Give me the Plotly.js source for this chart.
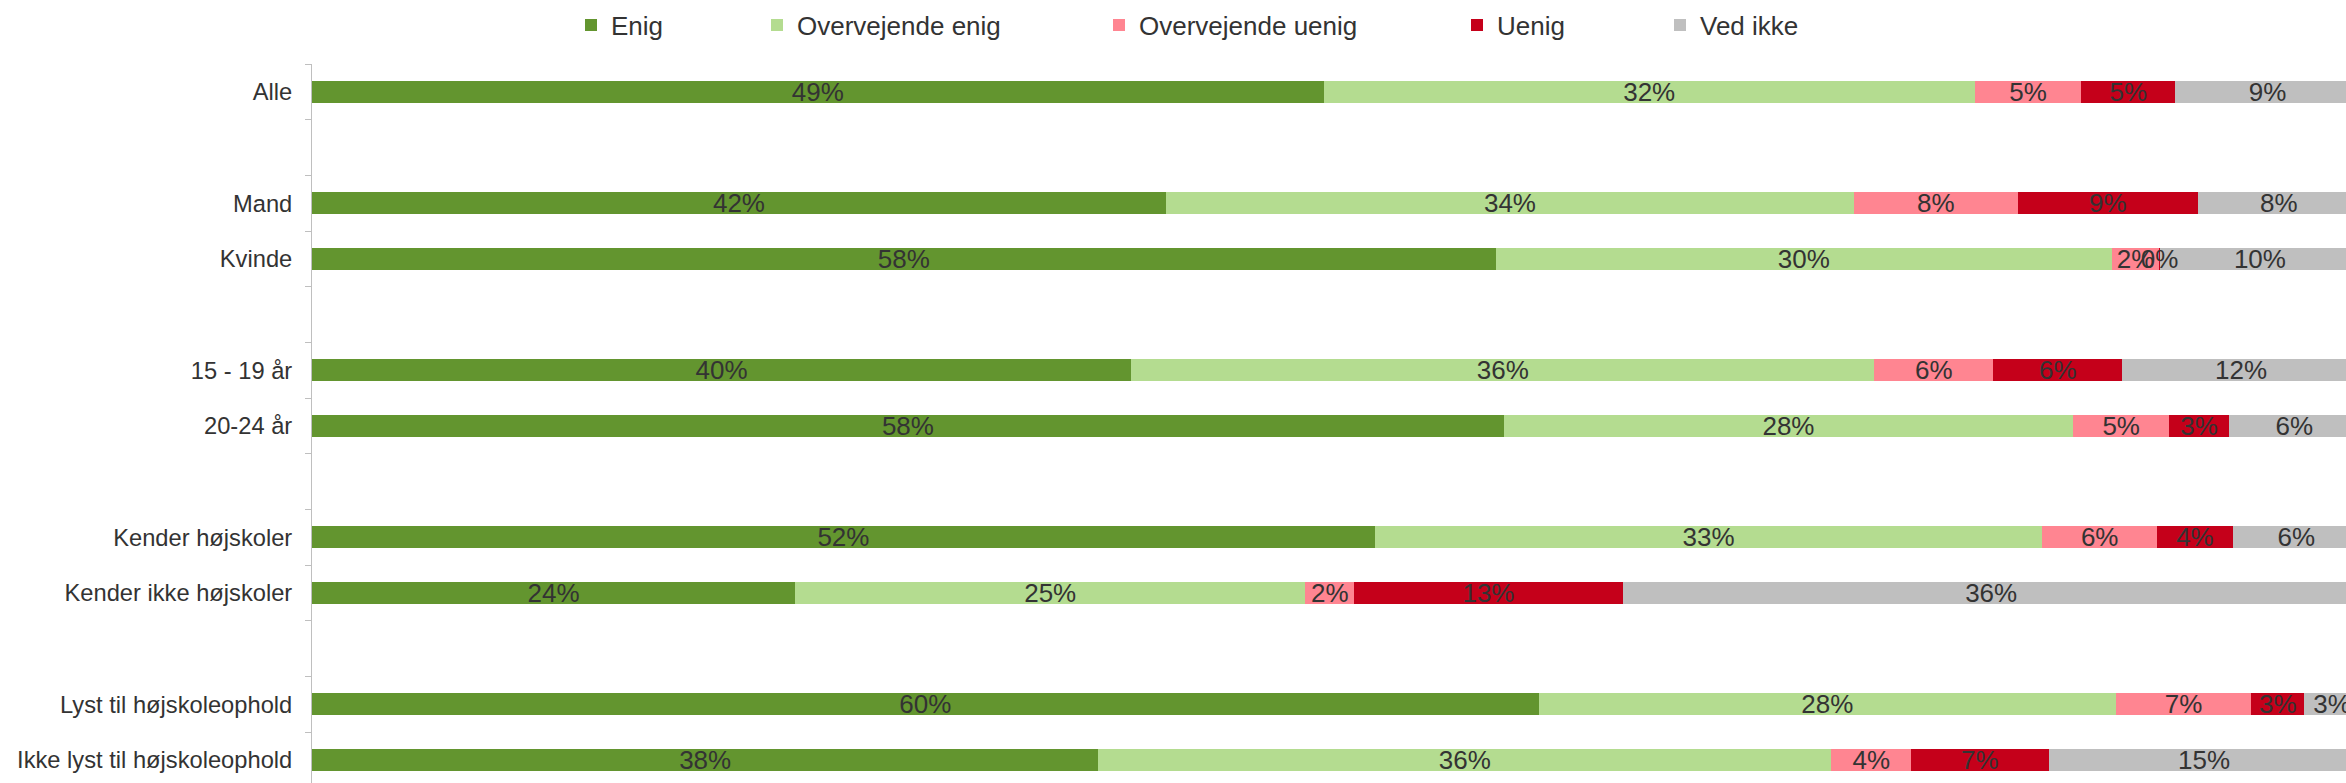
<!DOCTYPE html>
<html>
<head>
<meta charset="utf-8">
<script src="https://cdn.plot.ly/plotly-3.0.1.min.js"></script>
<style>html,body{margin:0;padding:0;background:#fff;overflow:hidden;}#chart{width:2370px;height:783px;}</style>
</head>
<body>
<div id="chart"></div>
<script>
// Row categories (blank strings are the empty separator rows of the original chart)
const categories = ['Alle', ' ', 'Mand', 'Kvinde', '  ', '15 - 19 år', '20-24 år', '   ',
  'Kender højskoler', 'Kender ikke højskoler', '    ', 'Lyst til højskoleophold', 'Ikke lyst til højskoleophold'];

const seriesNames = ['Enig', 'Overvejende enig', 'Overvejende uenig', 'Uenig', 'Ved ikke'];

// Shares in percent
const enig            = [49.4, null, 41.7, 57.8, null, 40.0, 58.2, null, 51.9, 23.6, null, 59.9, 38.4];
const overvejendeEnig = [31.8, null, 33.6, 30.1, null, 36.3, 27.8, null, 32.6, 24.9, null, 28.2, 35.8];
const overvejendeUenig= [5.2,  null, 8.0,  2.3,  null, 5.8,  4.7,  null, 5.6,  2.4,  null, 6.6,  3.9];
const uenig           = [4.6,  null, 8.8,  0.05, null, 6.3,  2.9,  null, 3.7,  13.1, null, 2.6,  6.7];
const vedIkke         = [9.0,  null, 7.9,  9.75, null, 11.6, 6.4,  null, 6.2,  36.0, null, 2.7,  15.2];

const seriesValues = [enig, overvejendeEnig, overvejendeUenig, uenig, vedIkke];
const colors = ['#63952F', '#B4DC90', '#FF8591', '#C5001A', '#BFBFBF'];

const W = 2370, H = 783;   // page window is 2346 wide; the chart runs off the right edge as in the original
const legendTextX = [611, 797, 1139, 1497, 1700];
const FONT = 'Liberation Sans, Arial, sans-serif';

// coloured bars
const barTraces = seriesNames.map((name, i) => ({
  type: 'bar',
  orientation: 'h',
  name: name,
  y: categories,
  x: seriesValues[i],
  marker: {color: colors[i], line: {width: 0}},
  hoverinfo: 'none',
  legend: i === 0 ? 'legend' : 'legend' + (i + 1),
  xaxis: 'x', yaxis: 'y'
}));

// transparent copies on an overlaid subplot that carry the value labels above every bar
const labelTraces = seriesNames.map((name, i) => ({
  type: 'bar',
  orientation: 'h',
  name: name + ' label',
  showlegend: false,
  y: categories,
  x: seriesValues[i],
  text: seriesValues[i].map(v => v == null ? '' : Math.round(v) + '%'),
  textposition: 'inside',
  insidetextanchor: 'middle',
  textangle: 0,
  insidetextfont: {family: FONT, size: 26, color: '#333333'},
  marker: {color: 'rgba(0,0,0,0)', line: {width: 0}},
  hoverinfo: 'none',
  cliponaxis: false,
  xaxis: 'x2', yaxis: 'y2'
}));

const legendFont = {family: FONT, size: 26, color: '#333333'};
const xRange = [0, 100.5];
const yRange = [12.41, -0.5];
const layout = {
  width: W, height: H,
  margin: {l: 312, r: 0, t: 64, b: 0, pad: 0},
  paper_bgcolor: '#ffffff', plot_bgcolor: '#ffffff',
  barmode: 'stack',
  bargap: 0.605,
  uniformtext: {mode: 'show', minsize: 26},
  font: {family: FONT, color: '#333333'},
  xaxis: {range: xRange, visible: false, showgrid: false, zeroline: false, fixedrange: true},
  yaxis: {
    type: 'category',
    categoryorder: 'array', categoryarray: categories,
    range: yRange,
    showline: true, linecolor: '#BFBFBF', linewidth: 1,
    ticks: 'outside', ticklen: 6, tickcolor: '#BFBFBF', tickwidth: 1,
    tickson: 'boundaries',
    showgrid: false, zeroline: false,
    tickfont: {family: FONT, size: 23.7, color: '#333333'},
    ticklabelstandoff: 14,
    fixedrange: true
  },
  xaxis2: {overlaying: 'x', range: xRange, visible: false, showgrid: false, zeroline: false, fixedrange: true},
  yaxis2: {
    overlaying: 'y', type: 'category',
    categoryorder: 'array', categoryarray: categories,
    range: yRange, visible: false, showgrid: false, zeroline: false, fixedrange: true
  },
  showlegend: true
};
legendTextX.forEach((px, i) => {
  const key = i === 0 ? 'legend' : 'legend' + (i + 1);
  layout[key] = {
    orientation: 'h',
    xref: 'container', yref: 'container',
    x: (px - 40) / W, xanchor: 'left',
    y: 1 - 25 / H, yanchor: 'middle',
    font: legendFont,
    bgcolor: 'rgba(0,0,0,0)', borderwidth: 0
  };
});

Plotly.newPlot('chart', barTraces.concat(labelTraces), layout, {staticPlot: true, displayModeBar: false});
</script>
</body>
</html>
